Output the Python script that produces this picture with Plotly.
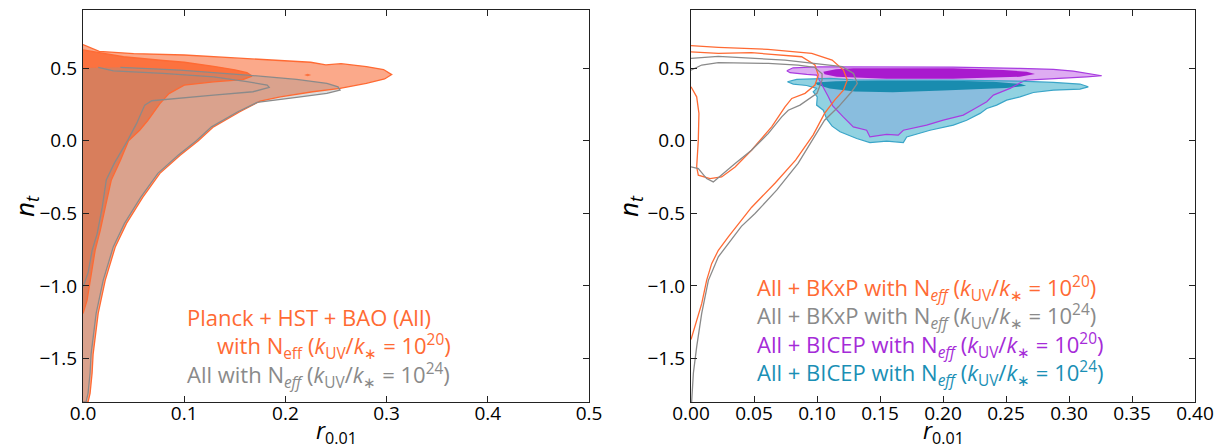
import plotly.graph_objects as go

# ---------------- data: left panel (Planck + HST + BAO, N_eff) ----------------
# orange: k_UV/k_* = 1e20 ; gray: k_UV/k_* = 1e24
L_org95_r = [0, 0.008, 0.016, 0.05, 0.1, 0.15, 0.2, 0.225, 0.24, 0.255, 0.28, 0.297, 0.305, 0.298, 0.28, 0.262,
             0.254, 0.227, 0.195, 0.175, 0.155, 0.129, 0.114, 0.096, 0.076, 0.059, 0.043, 0.032, 0.022, 0.015,
             0.01, 0.009, 0.007, 0.005, 0]
L_org95_nt = [0.662, 0.64, 0.615, 0.6, 0.59, 0.57, 0.547, 0.54, 0.522, 0.53, 0.51, 0.49, 0.455, 0.425, 0.395, 0.37,
              0.36, 0.337, 0.302, 0.272, 0.199, 0.095, 0.0, -0.1, -0.225, -0.39, -0.57, -0.73, -0.96, -1.19,
              -1.47, -1.6, -1.74, -1.8, -1.8]

L_org68_r = [0, 0.016, 0.04, 0.079, 0.1, 0.129, 0.15, 0.162, 0.167, 0.158, 0.15, 0.129, 0.1, 0.085, 0.076, 0.064,
             0.056, 0.045, 0.037, 0.028, 0.022, 0.017, 0.012, 0.007, 0.004, 0]
L_org68_nt = [0.625, 0.605, 0.578, 0.552, 0.54, 0.512, 0.488, 0.468, 0.445, 0.42, 0.417, 0.405, 0.382, 0.324, 0.255,
              0.139, 0.072, 0.0, -0.135, -0.27, -0.46, -0.62, -0.755, -0.96, -1.1, -1.19]

L_orgdot_r = [0.2185, 0.222, 0.2255, 0.222]
L_orgdot_nt = [0.452, 0.461, 0.452, 0.443]

L_gry95_r = [0, 0.037, 0.096, 0.162, 0.211, 0.241, 0.252, 0.254, 0.241, 0.211, 0.182, 0.172, 0.153, 0.127, 0.112,
             0.094, 0.074, 0.057, 0.041, 0.030, 0.020, 0.013, 0.008, 0.007, 0.005, 0.003, 0]
L_gry95_nt = [0.5, 0.505, 0.486, 0.452, 0.422, 0.394, 0.371, 0.348, 0.326, 0.298, 0.272, 0.263, 0.199, 0.095, 0.0,
              -0.1, -0.225, -0.39, -0.57, -0.73, -0.96, -1.19, -1.47, -1.6, -1.74, -1.8, -1.8]

L_gry68_r = [0, 0.015, 0.030, 0.079, 0.129, 0.162, 0.182, 0.184, 0.168, 0.129, 0.096, 0.068, 0.061, 0.053, 0.044,
             0.031, 0.023, 0.019, 0.014, 0.009, 0.005, 0]
L_gry68_nt = [0.5, 0.505, 0.481, 0.463, 0.44, 0.406, 0.383, 0.367, 0.337, 0.314, 0.291, 0.275, 0.245, 0.119, 0.0,
              -0.155, -0.27, -0.46, -0.64, -0.755, -0.91, -1.01]

# ---------------- data: right panel ----------------
# All + BKxP (orange 1e20, gray 1e24) : outlines only
R_org95_r = [0, 0.0217, 0.061, 0.0958, 0.112, 0.121, 0.124, 0.121, 0.114, 0.106, 0.097, 0.083, 0.067, 0.048,
             0.0296, 0.0217, 0.0164, 0.0124, 0.0085, 0.0045, 0.0]
R_org95_nt = [0.654, 0.643, 0.629, 0.601, 0.555, 0.486, 0.417, 0.348, 0.279, 0.188, 0.04, -0.134, -0.29, -0.46,
              -0.663, -0.755, -0.847, -0.962, -1.123, -1.238, -1.37]

R_org68_r = [0, 0.0217, 0.048, 0.0878, 0.0984, 0.101, 0.0984, 0.0905, 0.08, 0.0746, 0.064, 0.048, 0.035, 0.0243,
             0.0151, 0.0058, 0.0045, 0.0058, 0.0063, 0.0045, 0]
R_org68_nt = [0.612, 0.601, 0.606, 0.578, 0.521, 0.452, 0.383, 0.326, 0.291, 0.233, 0.095, -0.066, -0.181, -0.25,
              -0.261, -0.238, -0.181, 0.003, 0.188, 0.302, 0.371]

R_gry95_r = [0, 0.0217, 0.0746, 0.101, 0.12, 0.129, 0.132, 0.1275, 0.117, 0.106, 0.098, 0.085, 0.068, 0.0508,
             0.04, 0.0217, 0.0138, 0.0085, 0.0045, 0.0019, 0.0005]
R_gry95_nt = [0.567, 0.58, 0.555, 0.528, 0.51, 0.463, 0.394, 0.337, 0.233, 0.141, 0.026, -0.157, -0.341, -0.502,
              -0.59, -0.80, -0.962, -1.19, -1.42, -1.6, -1.8]

R_gry68_r = [0, 0.0085, 0.0217, 0.0614, 0.085, 0.098, 0.104, 0.104, 0.1, 0.0865, 0.0772, 0.072, 0.0614, 0.048,
             0.035, 0.0243, 0.0177, 0.0124, 0.0058, 0]
R_gry68_nt = [0.486, 0.521, 0.537, 0.532, 0.52, 0.505, 0.46, 0.417, 0.326, 0.245, 0.21, 0.164, 0.05, -0.066,
              -0.157, -0.238, -0.284, -0.261, -0.192, -0.181]

# All + BICEP (purple 1e20, teal 1e24) : filled
R_pur95_r = [0.076, 0.081, 0.1024, 0.1236, 0.208, 0.261, 0.2876, 0.3034, 0.314, 0.326, 0.314, 0.2876, 0.2664,
             0.2638, 0.2532, 0.24, 0.2347, 0.2254, 0.2161, 0.2002, 0.187, 0.1685, 0.1645, 0.1553, 0.142, 0.1394,
             0.1288, 0.121, 0.1125, 0.109, 0.105, 0.0997, 0.0918, 0.0786]
R_pur95_nt = [0.481, 0.502, 0.509, 0.509, 0.507, 0.498, 0.491, 0.479, 0.463, 0.447, 0.44, 0.429, 0.417, 0.41,
              0.36, 0.314, 0.268, 0.222, 0.176, 0.141, 0.107, 0.072, 0.038, 0.043, 0.026, 0.072, 0.095, 0.162,
              0.24, 0.302, 0.371, 0.452, 0.456, 0.468]

R_pur68_r = [0.105, 0.115, 0.1288, 0.208, 0.248, 0.2664, 0.273, 0.261, 0.208, 0.155, 0.1156, 0.106]
R_pur68_nt = [0.475, 0.492, 0.498, 0.498, 0.486, 0.475, 0.459, 0.44, 0.426, 0.426, 0.44, 0.458]

R_teal95_r = [0.0765, 0.0839, 0.1103, 0.1288, 0.208, 0.261, 0.2876, 0.3087, 0.3153, 0.3087, 0.2876, 0.2717,
              0.2611, 0.2505, 0.2426, 0.2347, 0.2294, 0.2188, 0.2082, 0.1897, 0.1712, 0.1685, 0.1553, 0.142,
              0.1315, 0.1183, 0.112, 0.1077, 0.105, 0.0997, 0.1002, 0.097, 0.0997, 0.0918, 0.0812]
R_teal95_nt = [0.406, 0.422, 0.429, 0.419, 0.417, 0.41, 0.401, 0.39, 0.371, 0.355, 0.348, 0.332, 0.302, 0.279,
               0.245, 0.222, 0.188, 0.141, 0.107, 0.072, 0.026, -0.013, -0.003, -0.013, 0.015, 0.061, 0.10, 0.15,
               0.21, 0.245, 0.302, 0.337, 0.36, 0.38, 0.39]

R_teal68_r = [0.0985, 0.115, 0.15, 0.2, 0.24, 0.262, 0.266, 0.25, 0.2, 0.16, 0.13, 0.11, 0.1]
R_teal68_nt = [0.40, 0.41, 0.414, 0.414, 0.405, 0.39, 0.378, 0.362, 0.345, 0.333, 0.338, 0.36, 0.385]

# ticks
L_xticks = [0.0, 0.1, 0.2, 0.3, 0.4, 0.5]
R_xticks = [0.0, 0.05, 0.1, 0.15, 0.2, 0.25, 0.3, 0.35, 0.4]
Y_ticks = [-1.5, -1.0, -0.5, 0.0, 0.5]

# legend texts
KUV = "(<i>k</i><sub>UV</sub>/<i>k</i><sub>∗</sub> = 10<sup>%s</sup>)"
L_labels = ["Planck + HST + BAO (All)",
            "with N<sub>eff</sub> " + KUV % "20",
            "All with N<sub><i>eff</i></sub> " + KUV % "24"]
R_labels = ["All + BKxP with N<sub><i>eff</i></sub> " + KUV % "20",
            "All + BKxP with N<sub><i>eff</i></sub> " + KUV % "24",
            "All + BICEP with N<sub><i>eff</i></sub> " + KUV % "20",
            "All + BICEP with N<sub><i>eff</i></sub> " + KUV % "24"]

ORANGE = "#FF6A33"
GRAY = "#8A8A8A"
PURPLE = "#A52BD8"
TEAL = "#1A8FB5"

fig = go.Figure()


def fill(r, nt, color, ax):
    fig.add_trace(go.Scatter(x=r, y=nt, mode="lines", fill="toself", fillcolor=color,
                             line=dict(width=0), hoverinfo="skip", showlegend=False,
                             xaxis=ax[0], yaxis=ax[1]))


def outline(r, nt, color, ax, width=1.3):
    fig.add_trace(go.Scatter(x=r, y=nt, mode="lines", line=dict(color=color, width=width),
                             hoverinfo="skip", showlegend=False, xaxis=ax[0], yaxis=ax[1]))


A1 = ("x", "y")
A2 = ("x2", "y2")

# left panel
fill(L_org95_r, L_org95_nt, "#FBA98A", A1)
fill(L_org68_r, L_org68_nt, "#FC723F", A1)
fill(L_orgdot_r, L_orgdot_nt, "#FC723F", A1)
fill(L_gry95_r, L_gry95_nt, "rgba(150,150,150,0.32)", A1)
fill(L_gry68_r, L_gry68_nt, "rgba(150,150,150,0.04)", A1)
outline(L_org95_r, L_org95_nt, ORANGE, A1)
outline(L_org68_r, L_org68_nt, ORANGE, A1)
outline(L_gry95_r[1:], L_gry95_nt[1:], GRAY, A1)
outline(L_gry68_r[1:], L_gry68_nt[1:], GRAY, A1)

# right panel
fill(R_pur95_r, R_pur95_nt, "#DEACF2", A2)
fill(R_pur68_r, R_pur68_nt, "#A91ACE", A2)
fill(R_teal95_r, R_teal95_nt, "rgba(108,195,215,0.75)", A2)
fill(R_teal68_r, R_teal68_nt, "#198CAF", A2)
outline(R_pur95_r + R_pur95_r[:1], R_pur95_nt + R_pur95_nt[:1], "#A83CE0", A2, 1.2)
outline(R_teal95_r + R_teal95_r[:1], R_teal95_nt + R_teal95_nt[:1], "#3AA5C8", A2, 1.2)
outline(R_org95_r, R_org95_nt, ORANGE, A2)
outline(R_org68_r, R_org68_nt, ORANGE, A2)
outline(R_gry95_r, R_gry95_nt, GRAY, A2)
outline(R_gry68_r, R_gry68_nt, GRAY, A2)

FONT = "Open Sans"
axis_common = dict(showline=True, linecolor="#222", linewidth=1.3, mirror="ticks", ticks="inside",
                   ticklen=6, tickwidth=1, tickcolor="#222", showgrid=False, zeroline=False,
                   tickfont=dict(family=FONT, size=19, color="black"))
xax = dict(axis_common, ticklabelstandoff=-6)
yax = dict(axis_common, ticklabelstandoff=1)

# the page body adds an 8 px offset; the figure is sized so the plot lands in the same place
OFF = 8
W, H = 1226 - OFF, 448 - OFF
ML, MR, MT, MB = 83 - OFF, 31, 10 - OFF, 46
PW = W - ML - MR
PH = H - MT - MB


def px(xp):
    return (xp - OFF - ML) / PW


def py(yp):
    return (OFF + H - MB - yp) / PH


fig.update_layout(
    width=W, height=H, margin=dict(l=ML, r=MR, t=MT, b=MB),
    paper_bgcolor="white", plot_bgcolor="white",
    xaxis=dict(domain=[0, px(589)], range=[0, 0.5], tickvals=L_xticks, tickformat=".1f", anchor="y", **xax),
    yaxis=dict(domain=[0, 1], range=[-1.8, 0.9], tickvals=Y_ticks, tickformat=".1f", anchor="x", **yax),
    xaxis2=dict(domain=[px(691), 1], range=[0, 0.4], tickvals=R_xticks, tickformat=".2f", anchor="y2", **xax),
    yaxis2=dict(domain=[0, 1], range=[-1.8, 0.9], tickvals=Y_ticks, tickformat=".1f", anchor="x2", **yax),
)

ann = []
# axis titles
for xc in (25, 629):
    ann.append(dict(x=px(xc), y=py(206), xref="paper", yref="paper", text="<i>n<sub>t</sub></i>",
                    textangle=-90, xanchor="center", yanchor="middle", showarrow=False,
                    font=dict(family=FONT, size=26, color="black")))
for xc in (336, 943):
    ann.append(dict(x=px(xc), y=py(432), xref="paper", yref="paper", text="<i>r</i><sub>0.01</sub>",
                    xanchor="center", yanchor="middle", showarrow=False,
                    font=dict(family=FONT, size=23, color="black")))

# legends
L_pos = [(185, 317), (215, 346), (185, 375)]
L_cols = [ORANGE, ORANGE, GRAY]
for (xp_, yp_), t, c in zip(L_pos, L_labels, L_cols):
    ann.append(dict(x=px(xp_), y=py(yp_), xref="paper", yref="paper", text=t, xanchor="left", yanchor="middle",
                    showarrow=False, font=dict(family=FONT, size=22, color=c)))
R_pos = [(755, 288), (755, 316), (755, 345), (755, 373)]
R_cols = [ORANGE, GRAY, PURPLE, TEAL]
for (xp_, yp_), t, c in zip(R_pos, R_labels, R_cols):
    ann.append(dict(x=px(xp_), y=py(yp_), xref="paper", yref="paper", text=t, xanchor="left", yanchor="middle",
                    showarrow=False, font=dict(family=FONT, size=22, color=c)))

fig.update_layout(annotations=ann)
fig.write_html("out.html")
